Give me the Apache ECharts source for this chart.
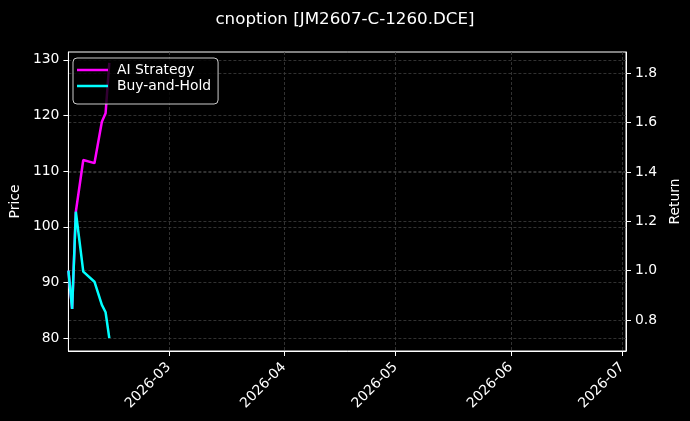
<!DOCTYPE html>
<html>
<head>
<meta charset="utf-8">
<script src="https://cdn.jsdelivr.net/npm/echarts@6/dist/echarts.min.js"></script>
<style>
html,body{margin:0;padding:0;background:#000;}
#c{width:690px;height:421px;}
</style>
</head>
<body>
<div id="c"></div>
<script>
// ---- data ----
const dates = ['2026-02-02','2026-02-03','2026-02-04','2026-02-06','2026-02-09','2026-02-11','2026-02-12','2026-02-13'];
const aiStrategy = [1.0, 0.845, 1.239, 1.449, 1.436, 1.604, 1.639, 1.843];
const buyHold    = [1.0, 0.845, 1.239, 0.996, 0.955, 0.861, 0.831, 0.726];
const xTickLabels = ['2026-03-01','2026-04-01','2026-05-01','2026-06-01','2026-07-01'];
const priceTicks = [80, 90, 100, 110, 120, 130];
const returnTicks = [0.8, 1.0, 1.2, 1.4, 1.6, 1.8];
const xRange = ['2026-02-02', '2026-07-02'];
const priceRange = [77.7, 131.4];
const returnRange = [0.674, 1.887];
const titleText = 'cnoption [JM2607-C-1260.DCE]';

function ts(s){ const p = s.split('-').map(Number); return Date.UTC(p[0], p[1]-1, p[2]); }
function pad(n){ return (n<10?'0':'')+n; }

const FONT = 'DejaVu Sans';
const FS = 13.9;
const gridLine = { show: true, lineStyle: { color: '#3e3e3e', width: 0.8, type: [3, 2] } };
const xTickValues = xTickLabels.map(ts);

const chart = echarts.init(document.getElementById('c'), null, { renderer: 'canvas' });
chart.setOption({
  backgroundColor: '#000',
  animation: false,
  textStyle: { fontFamily: FONT },
  title: {
    text: titleText, left: 'center', top: 6,
    textStyle: { color: '#fff', fontSize: 16.7, fontWeight: 'normal', fontFamily: FONT }
  },
  grid: { left: 67, right: 61, top: 52, bottom: 70, show: true, borderColor: '#fff', borderWidth: 1, backgroundColor: 'transparent' },
  legend: {
    left: 73, top: 58, orient: 'vertical',
    padding: [5, 7, 11, 4], itemGap: 2,
    itemWidth: 31, itemHeight: 2.5, icon: 'rect',
    backgroundColor: 'rgba(0,0,0,0.8)', borderColor: '#cccccc', borderWidth: 1, borderRadius: 4,
    textStyle: { color: '#fff', fontSize: FS, fontFamily: FONT, lineHeight: 14, padding: [0,0,0,4] },
    data: ['AI Strategy', 'Buy-and-Hold']
  },
  xAxis: {
    type: 'value', min: ts(xRange[0]), max: ts(xRange[1]),
    axisLine: { show: true, onZero: false, lineStyle: { color: '#fff', width: 1 } },
    axisTick: { show: true, length: 5, lineStyle: { color: '#fff' }, customValues: xTickValues },
    axisLabel: {
      color: '#fff', fontSize: FS, fontFamily: FONT, rotate: 45, margin: 14,
      customValues: xTickValues,
      formatter: function(v){ const d = new Date(v); return d.getUTCFullYear() + '-' + pad(d.getUTCMonth()+1); }
    },
    splitLine: gridLine
  },
  yAxis: [
    {
      type: 'value', position: 'left', min: priceRange[0], max: priceRange[1],
      name: 'Price', nameLocation: 'middle', nameGap: 43, nameRotate: 90,
      nameTextStyle: { color: '#fff', fontSize: FS, fontFamily: FONT },
      axisLine: { show: true, onZero: false, lineStyle: { color: '#fff' } },
      axisTick: { show: true, length: 5, lineStyle: { color: '#fff' }, customValues: priceTicks },
      axisLabel: { color: '#fff', fontSize: FS, fontFamily: FONT, margin: 9, customValues: priceTicks,
        formatter: v => String(Math.round(v)) },
      splitLine: gridLine
    },
    {
      type: 'value', position: 'right', min: returnRange[0], max: returnRange[1],
      name: 'Return', nameLocation: 'middle', nameGap: 38, nameRotate: 90,
      nameTextStyle: { color: '#fff', fontSize: FS, fontFamily: FONT },
      axisLine: { show: true, onZero: false, lineStyle: { color: '#fff' } },
      axisTick: { show: true, length: 5, lineStyle: { color: '#fff' }, customValues: returnTicks },
      axisLabel: { color: '#fff', fontSize: FS, fontFamily: FONT, margin: 9, customValues: returnTicks,
        formatter: v => v.toFixed(1) },
      splitLine: gridLine
    }
  ],
  series: [
    {
      name: 'AI Strategy', type: 'line', yAxisIndex: 1, showSymbol: false,
      data: dates.map((d, i) => [ts(d), aiStrategy[i]]),
      lineStyle: { color: '#ff00ff', width: 2.5 }, itemStyle: { color: '#ff00ff' }, z: 2
    },
    {
      name: 'Buy-and-Hold', type: 'line', yAxisIndex: 1, showSymbol: false,
      data: dates.map((d, i) => [ts(d), buyHold[i]]),
      lineStyle: { color: '#00ffff', width: 2.5 }, itemStyle: { color: '#00ffff' }, z: 3
    }
  ]
});
</script>
</body>
</html>
